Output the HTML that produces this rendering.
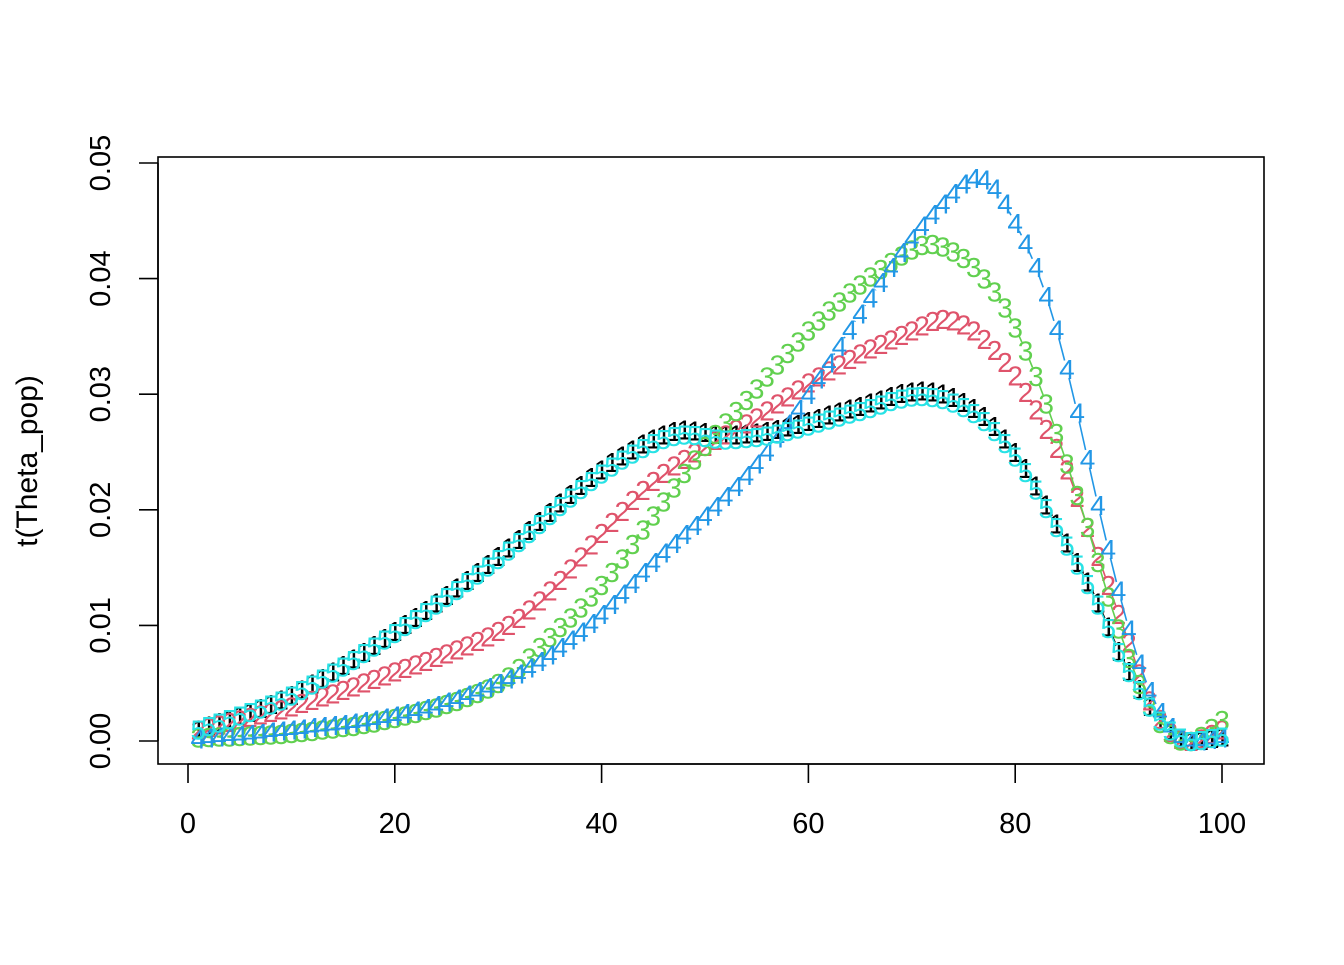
<!DOCTYPE html>
<html><head><meta charset="utf-8"><style>
html,body{margin:0;padding:0;background:#fff;}
svg text{font-family:"Liberation Sans",Arial,sans-serif;}
</style></head><body>
<svg id="s" width="1344" height="960" viewBox="0 0 1344 960" xmlns="http://www.w3.org/2000/svg">
<rect width="1344" height="960" fill="#fff"/>
<rect x="158" y="157" width="1106" height="607" fill="none" stroke="#000" stroke-width="1.6"/>
<g stroke="#000" stroke-width="1.6">
<line x1="188" y1="764" x2="1222" y2="764"/>
<line x1="188" y1="764" x2="188" y2="783"/><line x1="394.8" y1="764" x2="394.8" y2="783"/>
<line x1="601.6" y1="764" x2="601.6" y2="783"/><line x1="808.4" y1="764" x2="808.4" y2="783"/>
<line x1="1015.2" y1="764" x2="1015.2" y2="783"/><line x1="1222" y1="764" x2="1222" y2="783"/>
<line x1="158" y1="163" x2="158" y2="741"/>
<line x1="158" y1="741" x2="139" y2="741"/><line x1="158" y1="625.4" x2="139" y2="625.4"/>
<line x1="158" y1="509.8" x2="139" y2="509.8"/><line x1="158" y1="394.2" x2="139" y2="394.2"/>
<line x1="158" y1="278.6" x2="139" y2="278.6"/><line x1="158" y1="163" x2="139" y2="163"/>
</g>
<g font-size="29" text-anchor="middle" fill="#000">
<text x="188" y="833">0</text><text x="394.8" y="833">20</text><text x="601.6" y="833">40</text>
<text x="808.4" y="833">60</text><text x="1015.2" y="833">80</text><text x="1222" y="833">100</text>
<text transform="translate(110,741) rotate(-90)">0.00</text>
<text transform="translate(110,625.4) rotate(-90)">0.01</text>
<text transform="translate(110,509.8) rotate(-90)">0.02</text>
<text transform="translate(110,394.2) rotate(-90)">0.03</text>
<text transform="translate(110,278.6) rotate(-90)">0.04</text>
<text transform="translate(110,163) rotate(-90)">0.05</text>
<text transform="translate(37,461) rotate(-90)" font-size="30">t(Theta_pop)</text>
</g>
<g id="data"></g>
</svg>
<script>
var S=[
 ["#000000",[[1,0.001],[10,0.004],[20,0.0095],[30,0.016],[40,0.0235],[47,0.0268],[52,0.0265],[57,0.027],[65,0.029],[71,0.0303],[76,0.0288],[80,0.025],[84,0.0188],[88,0.012],[90,0.0078],[92,0.0045],[94,0.0018],[96,0.0003],[97,0],[100,0.0004]]],
 ["#DF536B",[[1,0.001],[10,0.003],[20,0.006],[30,0.0095],[35,0.013],[40,0.018],[45,0.0225],[50,0.0255],[55,0.028],[60,0.031],[65,0.0335],[70,0.0355],[73,0.0365],[76,0.0355],[79,0.0328],[81,0.0302],[83,0.027],[85,0.0235],[87,0.0185],[89,0.0135],[91,0.0085],[93,0.0035],[95,0.0008],[97,0],[100,0.001]]],
 ["#61D04F",[[1,0.0003],[10,0.0007],[20,0.002],[30,0.005],[35,0.009],[40,0.0135],[45,0.0195],[50,0.0255],[55,0.0305],[60,0.0355],[65,0.0395],[70,0.0425],[72,0.043],[75,0.0418],[77,0.04],[79,0.0375],[81,0.0338],[83,0.0292],[85,0.024],[87,0.0185],[89,0.0125],[91,0.0072],[93,0.003],[95,0.0006],[97,0],[100,0.0018]]],
 ["#2297E6",[[1,0.0002],[10,0.001],[20,0.0022],[30,0.005],[35,0.0075],[40,0.011],[45,0.0155],[50,0.0195],[55,0.024],[60,0.03],[65,0.037],[70,0.0435],[73,0.0465],[76,0.0487],[78,0.0478],[80,0.0448],[82,0.041],[84,0.0356],[86,0.0284],[88,0.0204],[90,0.013],[92,0.0067],[94,0.0025],[96,0.0003],[97,0],[100,0.0003]]],
 ["#28E2E5",null]
];
S[4][1]=S[0][1].map(function(p){return [p[0],p[1]*0.985];});
function interp(pts,x){
 for(var i=0;i<pts.length-1;i++){
  if(x<=pts[i+1][0]){
   var p0=pts[Math.max(i-1,0)],p1=pts[i],p2=pts[i+1],p3=pts[Math.min(i+2,pts.length-1)];
   var t=(x-p1[0])/(p2[0]-p1[0]);
   var m1=(p2[1]-p0[1])/(p2[0]-p0[0]||1)*(p2[0]-p1[0]);
   var m2=(p3[1]-p1[1])/(p3[0]-p1[0]||1)*(p2[0]-p1[0]);
   var t2=t*t,t3=t2*t;
   return (2*t3-3*t2+1)*p1[1]+(t3-2*t2+t)*m1+(-2*t3+3*t2)*p2[1]+(t3-t2)*m2;
  }
 }
 return pts[pts.length-1][1];
}
var g=document.getElementById("data"),out="";
S.forEach(function(s,k){
 var P=[];
 for(var x=1;x<=100;x++){var y=Math.max(0,interp(s[1],x));P.push([188+x*10.34, 741-y*11560]);}
 var r=9;
 for(var i=0;i<P.length-1;i++){
  var dx=P[i+1][0]-P[i][0],dy=P[i+1][1]-P[i][1],L=Math.sqrt(dx*dx+dy*dy);
  if(L>2*r){var ux=dx/L,uy=dy/L;
   out+='<line x1="'+(P[i][0]+ux*r).toFixed(1)+'" y1="'+(P[i][1]+uy*r).toFixed(1)+'" x2="'+(P[i+1][0]-ux*r).toFixed(1)+'" y2="'+(P[i+1][1]-uy*r).toFixed(1)+'" stroke="'+s[0]+'" stroke-width="1.6"/>';}
 }
 for(var i=0;i<P.length;i++){
  out+='<text x="'+P[i][0].toFixed(1)+'" y="'+(P[i][1]+10).toFixed(1)+'" font-size="28" text-anchor="middle" fill="'+s[0]+'">'+(k+1)+'</text>';
 }
});
g.innerHTML=out;
</script>
</body></html>
